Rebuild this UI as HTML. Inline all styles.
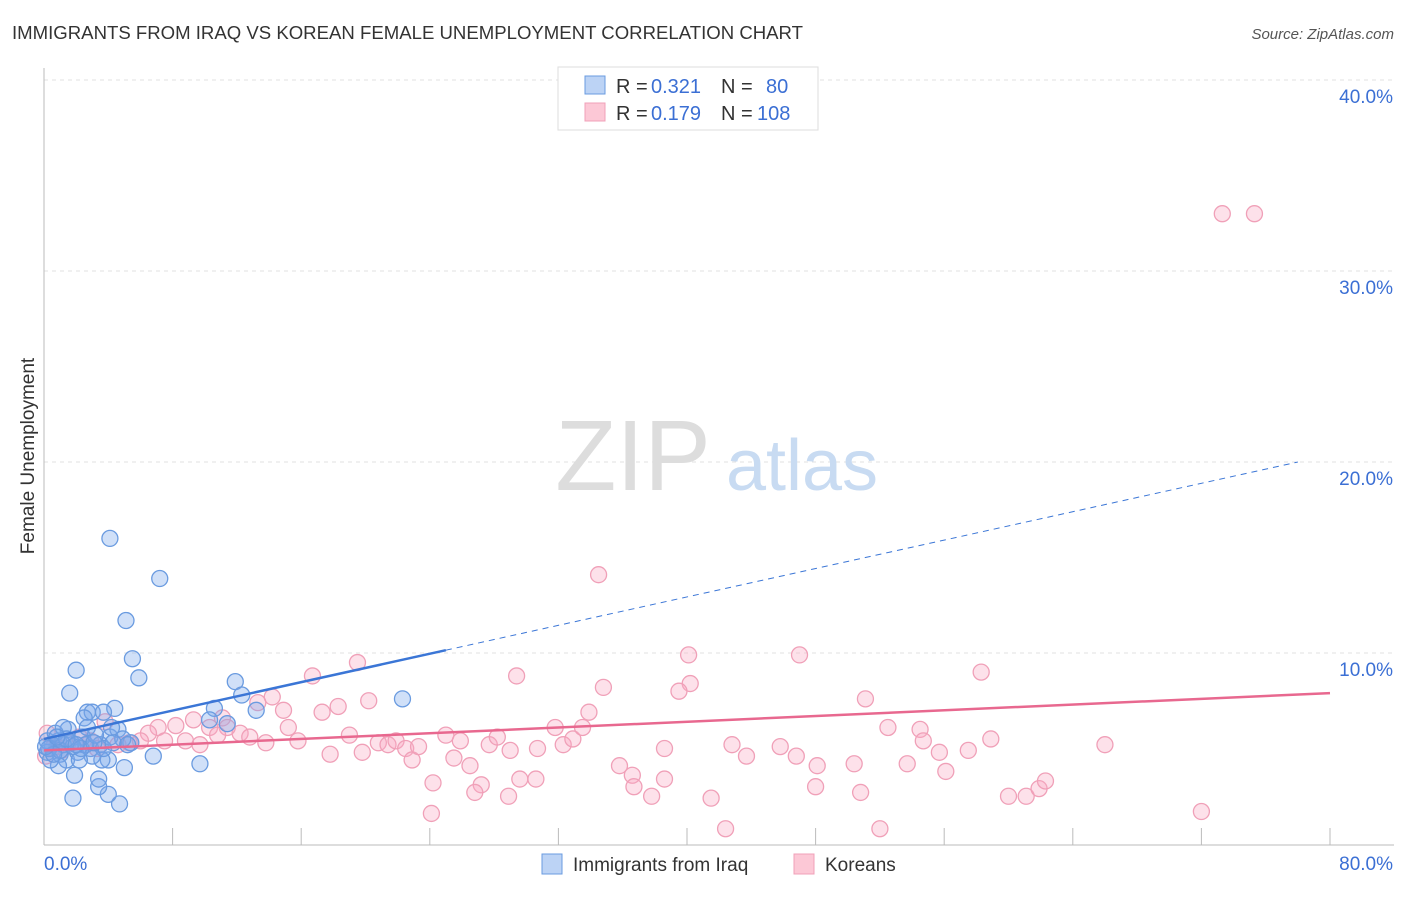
<!DOCTYPE html>
<html><head><meta charset="utf-8">
<style>
body{margin:0;background:#fff;font-family:"Liberation Sans",sans-serif;}
svg text{font-family:"Liberation Sans",sans-serif;}
</style></head>
<body>
<svg width="1406" height="892" viewBox="0 0 1406 892">
<text x="12" y="39" font-size="18" fill="#333" textLength="791" lengthAdjust="spacingAndGlyphs">IMMIGRANTS FROM IRAQ VS KOREAN FEMALE UNEMPLOYMENT CORRELATION CHART</text>
<text x="1394" y="39" font-size="15" fill="#555" font-style="italic" text-anchor="end">Source: ZipAtlas.com</text>
<g id="grid"></g>
<g>
<text x="633" y="490" font-size="100" fill="#ddd" font-family="Liberation Serif,serif" text-anchor="middle">ZIP</text>
<text x="802" y="490" font-size="72" fill="#c8dbf2" text-anchor="middle">atlas</text>
</g>
<text transform="translate(34,456) rotate(-90)" font-size="19" fill="#333" text-anchor="middle">Female Unemployment</text>
<g id="pts"></g>
<g id="trend"></g>
<g>
<rect x="558" y="67" width="260" height="63" fill="#fff" stroke="#ddd"/>
<rect x="585" y="76" width="20" height="18" fill="#bcd3f5" stroke="#6a9be0"/>
<rect x="585" y="103" width="20" height="18" fill="#fcc8d6" stroke="#f0a0b8"/>
<text y="93" font-size="20" fill="#333"><tspan x="616">R =</tspan><tspan x="651" fill="#3b6fd4">0.321</tspan><tspan x="721">N =</tspan><tspan x="766" fill="#3b6fd4">80</tspan></text>
<text y="120" font-size="20" fill="#333"><tspan x="616">R =</tspan><tspan x="651" fill="#3b6fd4">0.179</tspan><tspan x="721">N =</tspan><tspan x="757" fill="#3b6fd4">108</tspan></text>
</g>
<g>
<rect x="542" y="854" width="20" height="20" fill="#bcd3f5" stroke="#6a9be0"/>
<text x="573" y="871" font-size="19" fill="#333">Immigrants from Iraq</text>
<rect x="794" y="854" width="20" height="20" fill="#fcc8d6" stroke="#f0a0b8"/>
<text x="825" y="871" font-size="19" fill="#333">Koreans</text>
</g>
</svg>
<script>
const xTicks=[0,80];
const yTicks=[10,20,30,40];
const iraqX=[4.1,7.2,5.1,5.5,5.9,2.0,1.6,11.9,10.6,12.3,13.2,22.3,9.7,6.8,5.0,4.7,1.8,4.0,3.4,1.9,4.4,2.7,3.0,3.7,11.4,10.3,2.5,1.5,0.9,0.5,1.0,1.4,2.1,2.9,3.5,4.1,4.6,5.4,4.0,3.6,0.9,0.2,0.2,0.7,1.2,1.7,2.4,2.6,3.2,4.2,4.9,5.2,3.7,1.2,0.4,4.3,3.0,2.2,2.7,3.4,0.3,1.0,1.8,2.3,3.1,0.6,1.4,2.0,0.1,0.8];
const iraqY=[16.0,13.9,11.7,9.7,8.7,9.1,7.9,8.5,7.1,7.8,7.0,7.6,4.2,4.6,4.0,2.1,2.4,2.6,3.0,3.6,7.1,6.9,6.9,6.9,6.3,6.5,6.6,6.0,5.4,5.2,4.7,4.4,4.8,5.0,5.2,5.6,6.0,5.3,4.4,4.4,4.1,4.8,5.4,5.8,6.1,5.3,5.6,5.2,5.7,6.1,5.5,5.2,5.0,5.2,4.4,5.3,4.6,4.4,6.1,3.4,5.0,4.9,5.1,5.0,5.3,4.7,5.5,5.2,5.1,5.6];
const korX=[73.3,75.3,34.5,40.1,47.0,19.5,58.3,16.7,29.4,34.8,40.2,39.5,51.1,14.2,20.2,13.3,18.3,17.3,33.9,14.9,11.1,9.3,8.2,7.1,6.5,12.2,10.3,11.4,12.8,13.8,15.2,15.8,17.8,19.0,19.8,20.8,21.4,21.9,22.5,22.9,23.3,25.0,25.9,25.5,26.5,27.7,28.2,29.0,29.6,30.6,27.2,26.8,28.9,24.2,24.1,30.7,31.8,32.3,32.9,33.5,35.8,36.6,36.7,37.8,38.6,38.6,41.5,42.4,42.8,43.7,45.8,46.8,48.0,48.1,50.4,50.8,52.0,52.5,53.7,54.5,54.7,55.7,56.1,57.5,58.9,60.0,61.1,61.9,62.3,66.0,72.0,0.2,0.5,0.1,1.1,2.9,3.8,4.6,5.3,6.0,7.5,8.8,9.7,10.8,1.5,2.2,0.8,3.3];
const korY=[33.0,33.0,14.1,9.9,9.9,9.5,9.0,8.8,8.8,8.2,8.4,8.0,7.6,7.7,7.5,7.4,7.2,6.9,6.9,7.0,6.6,6.5,6.2,6.1,5.8,5.8,6.1,6.1,5.6,5.3,6.1,5.4,4.7,5.7,4.8,5.3,5.2,5.4,5.0,4.4,5.1,5.7,5.4,4.5,4.1,5.2,5.6,4.9,3.4,3.4,3.1,2.7,2.5,3.2,1.6,5.0,6.1,5.2,5.5,6.1,4.1,3.6,3.0,2.5,3.4,5.0,2.4,0.8,5.2,4.6,5.1,4.6,3.0,4.1,4.2,2.7,0.8,6.1,4.2,6.0,5.4,4.8,3.8,4.9,5.5,2.5,2.5,2.9,3.3,5.2,1.7,5.8,5.0,4.6,4.9,5.4,6.4,5.2,5.3,5.4,5.4,5.4,5.2,5.7,5.3,5.6,5.1,5.0];
const iraqTrend=[5.5,20.0];   // y at x=0 and x=78
const korTrend=[4.9,7.9];     // y at x=0 and x=80
const NS="http://www.w3.org/2000/svg";
const X=v=>44+v/80*1286, Y=v=>844-v*19.1;
function mk(t,a,p){const e=document.createElementNS(NS,t);for(const k in a)e.setAttribute(k,a[k]);p.appendChild(e);return e;}
const grid=document.getElementById('grid');
yTicks.forEach(t=>{
 const l=mk('line',{x1:44,x2:1394,y1:Y(t),y2:Y(t),stroke:'#e2e2e2','stroke-dasharray':'4,4'},grid);
 
 
 const tx=mk('text',{x:1393,y:Y(t)+23,'font-size':19,fill:'#3b6fd4','text-anchor':'end'},grid);
 tx.textContent=t.toFixed(1)+'%';
 
 
});
const ax=mk('line',{x1:44,x2:44,y1:68,y2:845,stroke:'#bbb'},grid);


const bx=mk('line',{x1:44,x2:1394,y1:845,y2:845,stroke:'#bbb'},grid);


for(let i=0;i<=10;i++){const t=mk('line',{x1:X(i*8),x2:X(i*8),y1:828,y2:845,stroke:'#bbb'},grid);
 
 }
xTicks.forEach((t,i)=>{const tx=mk('text',{x:i?1393:44,y:870,'font-size':19,fill:'#3b6fd4','text-anchor':i?'end':'start'},grid);
 tx.textContent=t.toFixed(1)+'%';
 
 });
const pts=document.getElementById('pts');
korX.forEach((v,i)=>{const c=mk('circle',{cx:X(v),cy:Y(korY[i]),r:8,fill:'rgba(248,170,195,0.35)',stroke:'#f0a0b8','stroke-width':1.3},pts);
 
 });
iraqX.forEach((v,i)=>{const c=mk('circle',{cx:X(v),cy:Y(iraqY[i]),r:8,fill:'rgba(120,165,235,0.35)',stroke:'#6a9be0','stroke-width':1.3},pts);
 
 });
const tr=document.getElementById('trend');
const iy=x=>iraqTrend[0]+(iraqTrend[1]-iraqTrend[0])*x/78;
const l1=mk('line',{x1:X(0),y1:Y(iy(0)),x2:X(25),y2:Y(iy(25)),stroke:'#3b76d6','stroke-width':2.5},tr);


const l2=mk('line',{x1:X(25),y1:Y(iy(25)),x2:X(78),y2:Y(iy(78)),stroke:'#3b76d6','stroke-width':1,'stroke-dasharray':'6,5'},tr);


const l3=mk('line',{x1:X(0),y1:Y(korTrend[0]),x2:X(80),y2:Y(korTrend[1]),stroke:'#e8688f','stroke-width':2.5},tr);


</script>
</body></html>
